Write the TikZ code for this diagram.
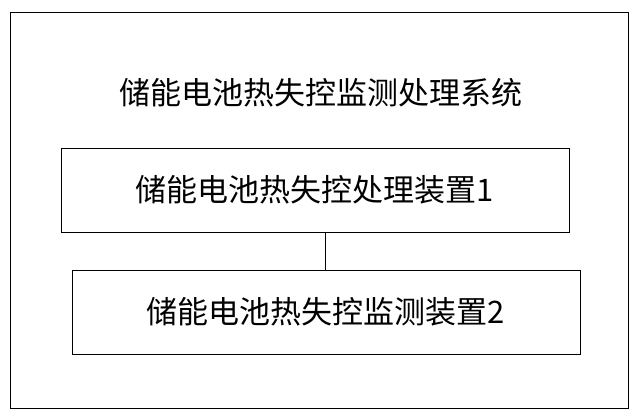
\documentclass[tikz,border=0pt]{standalone}
\usepackage{fontspec}
\setmainfont{Liberation Serif}
\newfontfamily\cjk{Noto Sans CJK SC}
\begin{document}
\begin{tikzpicture}
  [  
     x=1pt,y=-1pt,
     unitbox/.style={draw,
                  thick,
                  minimum height=84pt,
                  minimum width=508pt,
                  font=\cjk\fontsize{31}{36}\selectfont},
     frame/.style={draw,
                  thick}
  ]
    \useasboundingbox (0,0) rectangle (640,419);
    \draw[frame] (10,12) rectangle (628,408);
    \node[font=\cjk\fontsize{31}{36}\selectfont] (title) at (321,93) {储能电池热失控监测处理系统};
    \node[unitbox] (proc) at (315,190) {储能电池热失控处理装置1};
    \node[unitbox] (moni) at (326,312) {储能电池热失控监测装置2};
    \draw[thick] (proc.south -| 325,0) -- (moni.north -| 325,0);
\end{tikzpicture}
\end{document}
